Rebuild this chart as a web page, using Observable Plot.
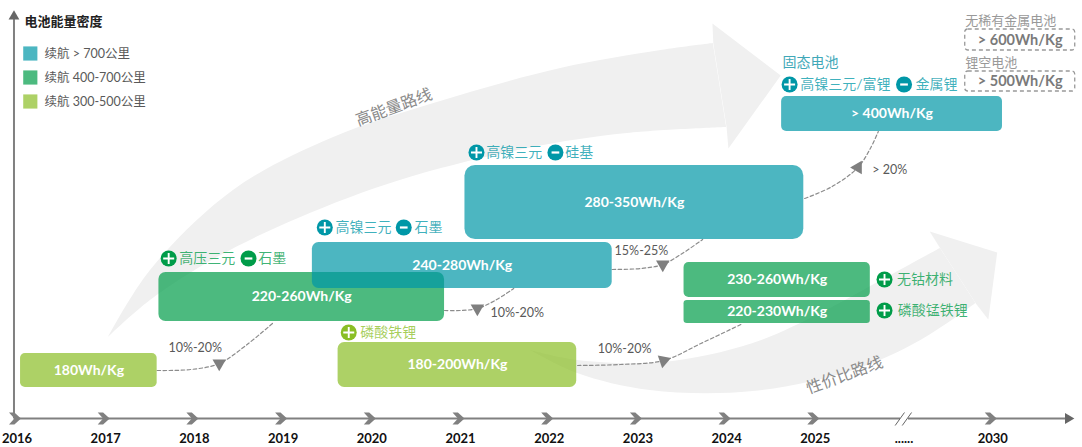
<!DOCTYPE html>
<html lang="zh">
<head>
<meta charset="utf-8">
<title>电池能量密度路线图</title>
<script src="https://cdn.jsdelivr.net/npm/d3@7"></script>
<script src="https://cdn.jsdelivr.net/npm/@observablehq/plot@0.6"></script>
<style>
  html, body { margin: 0; padding: 0; background: #fff; }
  svg { display: block; }
</style>
</head>
<body>
<div id="chart"></div>
<script>
// Timeline slots: one slot per year up to 2025, then a break slot and 2030.
const slots = [2016, 2017, 2018, 2019, 2020, 2021, 2022, 2023, 2024, 2025, 2026, 2027];
const slotLabels = ["2016", "2017", "2018", "2019", "2020", "2021", "2022", "2023", "2024", "2025", "......", "2030"];

// Range tiers and their legend
const tiers = ["long", "mid", "short"];
const tierColors = ["#0097a7", "#009c49", "#8abe25"];
const tierNames = ["续航 > 700公里", "续航 400-700公里", "续航 300-500公里"];

// Density boxes: span along the timeline and relative height above the axis
const boxLabels = ["180Wh/Kg", "220-260Wh/Kg", "240-280Wh/Kg", "280-350Wh/Kg", "180-200Wh/Kg", "230-260Wh/Kg", "220-230Wh/Kg", "> 400Wh/Kg"];
const boxTiers = ["short", "mid", "long", "long", "short", "mid", "mid", "long"];
const boxStart = [2016.04, 2017.60, 2019.33, 2021.05, 2019.62, 2023.52, 2023.52, 2024.62];
const boxEnd = [2017.58, 2020.82, 2022.71, 2024.87, 2022.31, 2025.62, 2025.62, 2027.11];
const boxLow = [31, 97, 130, 179, 31, 121, 95, 287];
const boxHigh = [65, 146, 176, 253, 76, 156, 118, 322];

// Future chemistries, shown as dashed outlines
const futureLabels = ["> 600Wh/Kg", "> 500Wh/Kg"];
const futureNames = ["无稀有金属电池", "锂空电池"];
const futureStart = [2026.69, 2026.69];
const futureEnd = [2027.93, 2027.93];
const futureLow = [368, 327];
const futureHigh = [389, 347];
const futureNameY = [398, 356];

// Material notes: sign badge plus name
const noteTexts = ["高压三元", "石墨", "高镍三元", "石墨", "磷酸铁锂", "高镍三元", "硅基", "高镍三元/富锂", "金属锂", "无钴材料", "磷酸锰铁锂"];
const noteSigns = ["+", "-", "+", "-", "+", "+", "-", "+", "-", "+", "+"];
const noteTiers = ["mid", "mid", "long", "long", "short", "long", "long", "long", "long", "mid", "mid"];
const noteBadgeX = [2017.71, 2018.61, 2019.47, 2020.36, 2019.74, 2021.18, 2022.07, 2024.71, 2026.00, 2025.78, 2025.78];
const noteTextX = [2017.83, 2018.72, 2019.59, 2020.48, 2019.87, 2021.29, 2022.18, 2024.83, 2026.13, 2025.92, 2025.93];
const noteY = [160, 160, 191, 191, 86, 266, 266, 334, 334, 139, 108];

// Growth connectors between generations
const connectors = [
  {label: "10%-20%", labelX: 2018.01, labelY: 71, x: [2017.58, 2017.96, 2018.28, 2018.58, 2018.88], y: [48, 49, 55, 73, 95], headX: 2018.28, headY: 55},
  {label: "10%-20%", labelX: 2021.64, labelY: 106, x: [2020.82, 2021.00, 2021.19, 2021.39, 2021.60], y: [108, 108, 110, 118, 130], headX: 2021.19, headY: 110},
  {label: "15%-25%", labelX: 2023.04, labelY: 168, x: [2022.71, 2023.03, 2023.28, 2023.50, 2023.73], y: [149, 150, 154, 165, 179], headX: 2023.28, headY: 154},
  {label: "10%-20%", labelX: 2022.85, labelY: 70, x: [2022.32, 2022.80, 2023.29, 2023.71, 2024.16], y: [53, 54, 58, 75, 94], headX: 2023.29, headY: 58},
  {label: "> 20%", labelX: 2025.84, labelY: 249, x: [2024.88, 2025.19, 2025.48, 2025.62, 2025.71], y: [220, 232, 251, 270, 287], headX: 2025.48, headY: 251}
];
const headTurns = [180, 180, 180, 191, 150];

// Background route arrows: band edges and heads
const highBandX1 = [2017.03, 2017.505, 2018.44, 2019.57, 2020.70, 2022.13, 2023.26, 2023.85];
const highBandY1 = [81, 148, 228, 281, 315, 350, 368, 375];
const highBandX2 = [2017.03, 2017.505, 2018.26, 2019.20, 2020.32, 2021.76, 2022.88, 2024.00];
const highBandY2 = [81, 118, 161, 201, 238, 270, 285, 291];
const highHeadX = [2023.85, 2023.84, 2024.61, 2024.02, 2024.00];
const highHeadY = [375, 395, 343, 270, 291];
const valueBandX1 = [2021.79, 2022.32, 2023.29, 2024.30, 2025.06, 2025.81, 2026.41];
const valueBandY1 = [68, 58, 56, 75, 105, 141, 170];
const valueBandX2 = [2021.79, 2022.32, 2023.14, 2024.30, 2025.43, 2026.19, 2026.81];
const valueBandY2 = [68, 45, 28, 27, 48, 78, 115];
const valueHeadX = [2026.41, 2026.29, 2027.05, 2026.95, 2026.81];
const valueHeadY = [170, 187, 166, 99, 115];

const rows = (...cols) => cols[0].map((_, i) => cols.map((c) => c[i]));
const CN = "Lato, 'Noto Sans CJK SC', sans-serif";
const axisGray = "#808080";

// Small filled glyphs for the timeline and the sign badges
const chevron = {
  draw(c, size) {
    const s = Math.sqrt(size / Math.PI);
    c.moveTo(-s, -s); c.lineTo(-0.1 * s, -s); c.lineTo(s, 0); c.lineTo(-0.1 * s, s); c.lineTo(-s, s); c.lineTo(-0.1 * s, 0); c.closePath();
  }
};
const plusGlyph = {
  draw(c, size) {
    const s = Math.sqrt(size / Math.PI), t = 0.95;
    c.moveTo(-t, -s); c.lineTo(t, -s); c.lineTo(t, -t); c.lineTo(s, -t); c.lineTo(s, t); c.lineTo(t, t);
    c.lineTo(t, s); c.lineTo(-t, s); c.lineTo(-t, t); c.lineTo(-s, t); c.lineTo(-s, -t); c.lineTo(-t, -t); c.closePath();
  }
};
const minusGlyph = {
  draw(c, size) {
    const s = Math.sqrt(size / Math.PI) * 0.7, t = 1.1;
    c.moveTo(-s, -t); c.lineTo(s, -t); c.lineTo(s, t); c.lineTo(-s, t); c.closePath();
  }
};

const bandMark = (x1, y1, x2, y2) => Plot.area(rows(x1, y1, x2, y2), {
  x1: (d) => d[0], y1: (d) => d[1], x2: (d) => d[2], y2: (d) => d[3],
  curve: "catmull-rom", fill: "#f0f0f0"
});
const headMark = (x, y) => Plot.line(rows(x, y), {
  x: (d) => d[0], y: (d) => d[1], fill: "#f0f0f0", stroke: "none", curve: "linear"
});

const boxes = rows(boxLabels, boxTiers, boxStart, boxEnd, boxLow, boxHigh)
  .map(([label, tier, x1, x2, y1, y2]) => ({label, tier, x1, x2, y1, y2}));
const futures = rows(futureLabels, futureNames, futureStart, futureEnd, futureLow, futureHigh, futureNameY)
  .map(([label, name, x1, x2, y1, y2, nameY]) => ({label, name, x1, x2, y1, y2, nameY}));
const notes = rows(noteTexts, noteSigns, noteTiers, noteBadgeX, noteTextX, noteY)
  .map(([text, sign, tier, bx, tx, y]) => ({text, sign, tier, bx, tx, y}));
const legend = rows(tiers, tierNames, [365, 341, 317]).map(([tier, name, y]) => ({tier, name, y}));

const chart = Plot.plot({
  width: 1082,
  height: 447,
  marginTop: 0,
  marginRight: 0,
  marginBottom: 29,
  marginLeft: 0,
  style: {fontFamily: CN, background: "#fff"},
  x: {type: "linear", domain: [2015.814, 2028.012], range: [0, 1082], axis: null},
  y: {type: "linear", domain: [0, 418], range: [418, 0], axis: null},
  color: {domain: tiers, range: tierColors},
  marks: [
    // Background routes
    bandMark(highBandX1, highBandY1, highBandX2, highBandY2),
    headMark(highHeadX, highHeadY),
    bandMark(valueBandX1, valueBandY1, valueBandX2, valueBandY2),
    headMark(valueHeadX, valueHeadY),
    Plot.text(["高能量路线"], {x: [2020.25], y: [311], rotate: -20, fontSize: 16, fill: "#8a8a8a"}),
    Plot.text(["性价比路线"], {x: [2025.33], y: [43], rotate: -20, fontSize: 16, fill: "#8a8a8a"}),

    // Axes
    Plot.ruleX([2015.966], {y1: 0, y2: 403, stroke: axisGray, strokeWidth: 2}),
    Plot.dot([2015.966], {x: (d) => d, y: () => 402, symbol: "triangle", r: 4, fill: "#666", stroke: "none"}),
    Plot.ruleY([0], {x1: 2015.966, x2: 2027.85, stroke: axisGray, strokeWidth: 2}),
    Plot.ruleY([0], {x1: 2025.96, x2: 2026.05, stroke: "#fff", strokeWidth: 4}),
    Plot.link([2025.90, 2025.98], {x1: (d) => d, x2: (d) => d + 0.105, y1: () => -7, y2: () => 6, stroke: "#666", strokeWidth: 1}),
    Plot.dot([2027.85], {x: (d) => d, y: () => 0, symbol: "triangle", rotate: 90, r: 4, fill: "#666", stroke: "none"}),
    Plot.dot(slots.filter((s) => s !== 2026), {x: (d) => d, y: () => 0, dx: -2, symbol: chevron, r: 6, fill: axisGray, stroke: "none"}),
    Plot.axisX(slots, {
      tickSize: 0, tickPadding: 15, tickFormat: (d) => slotLabels[slots.indexOf(d)],
      fontSize: 13, fontWeight: 700, fill: "#111"
    }),

    // Title and legend
    Plot.text(["电池能量密度"], {x: [2016.085], y: [397], textAnchor: "start", fontSize: 13, fontWeight: 700, fill: "#222"}),
    Plot.dot(legend, {x: () => 2016.15, y: "y", symbol: "square", r: 8, fill: "tier", fillOpacity: 0.7, stroke: "none"}),
    Plot.text(legend, {x: () => 2016.31, y: "y", text: "name", textAnchor: "start", fontSize: 12.5, fill: "#595959"}),

    // Connectors run beneath the boxes
    ...connectors.flatMap((c, i) => [
      Plot.line(rows(c.x, c.y), {x: (d) => d[0], y: (d) => d[1], curve: "catmull-rom", stroke: "#8c8c8c", strokeWidth: 1.2, strokeDasharray: "3.5 2.5"}),
      Plot.dot([c], {x: "headX", y: "headY", symbol: "triangle", rotate: headTurns[i], r: 5, fill: "#7f7f7f", stroke: "none"}),
      Plot.text([c], {x: "labelX", y: "labelY", text: "label", fontSize: 12.5, fill: "#595959"})
    ]),

    // Density boxes, corner radius following box height
    ...boxes.map((b) => Plot.rect([b], {
      x1: "x1", x2: "x2", y1: "y1", y2: "y2", fill: "tier", fillOpacity: 0.7, rx: (b.y2 - b.y1) / 7
    })),
    Plot.text(boxes, {
      x: (d) => (d.x1 + d.x2) / 2, y: (d) => (d.y1 + d.y2) / 2, text: "label",
      fontSize: 14, fontWeight: 700, fill: "#fff"
    }),

    // Future chemistries
    ...futures.map((f) => Plot.rect([f], {
      x1: "x1", x2: "x2", y1: "y1", y2: "y2", fill: "none", stroke: "#999", strokeWidth: 1.3, strokeDasharray: "4 3", rx: 3
    })),
    Plot.text(futures, {x: (d) => (d.x1 + d.x2) / 2, y: (d) => (d.y1 + d.y2) / 2, text: "label", fontSize: 14.5, fontWeight: 700, fill: "#7a7a7a"}),
    Plot.text(futures, {x: "x1", y: "nameY", text: "name", textAnchor: "start", fontSize: 13, fill: "#999"}),

    // Material notes
    Plot.text(["固态电池"], {x: [2024.63], y: [356], textAnchor: "start", fontSize: 14, fill: "#3fa8b8"}),
    Plot.dot(notes, {x: "bx", y: "y", r: 8, fill: "tier", stroke: "none"}),
    Plot.dot(notes.filter((n) => n.sign === "+"), {x: "bx", y: "y", r: 5.5, symbol: plusGlyph, fill: "#fff", stroke: "none"}),
    Plot.dot(notes.filter((n) => n.sign === "-"), {x: "bx", y: "y", r: 5.5, symbol: minusGlyph, fill: "#fff", stroke: "none"}),
    Plot.text(notes, {x: "tx", y: "y", text: "text", textAnchor: "start", fontSize: 14, fill: "tier", fillOpacity: 0.75})
  ]
});
document.getElementById("chart").append(chart);
</script>
</body>
</html>
